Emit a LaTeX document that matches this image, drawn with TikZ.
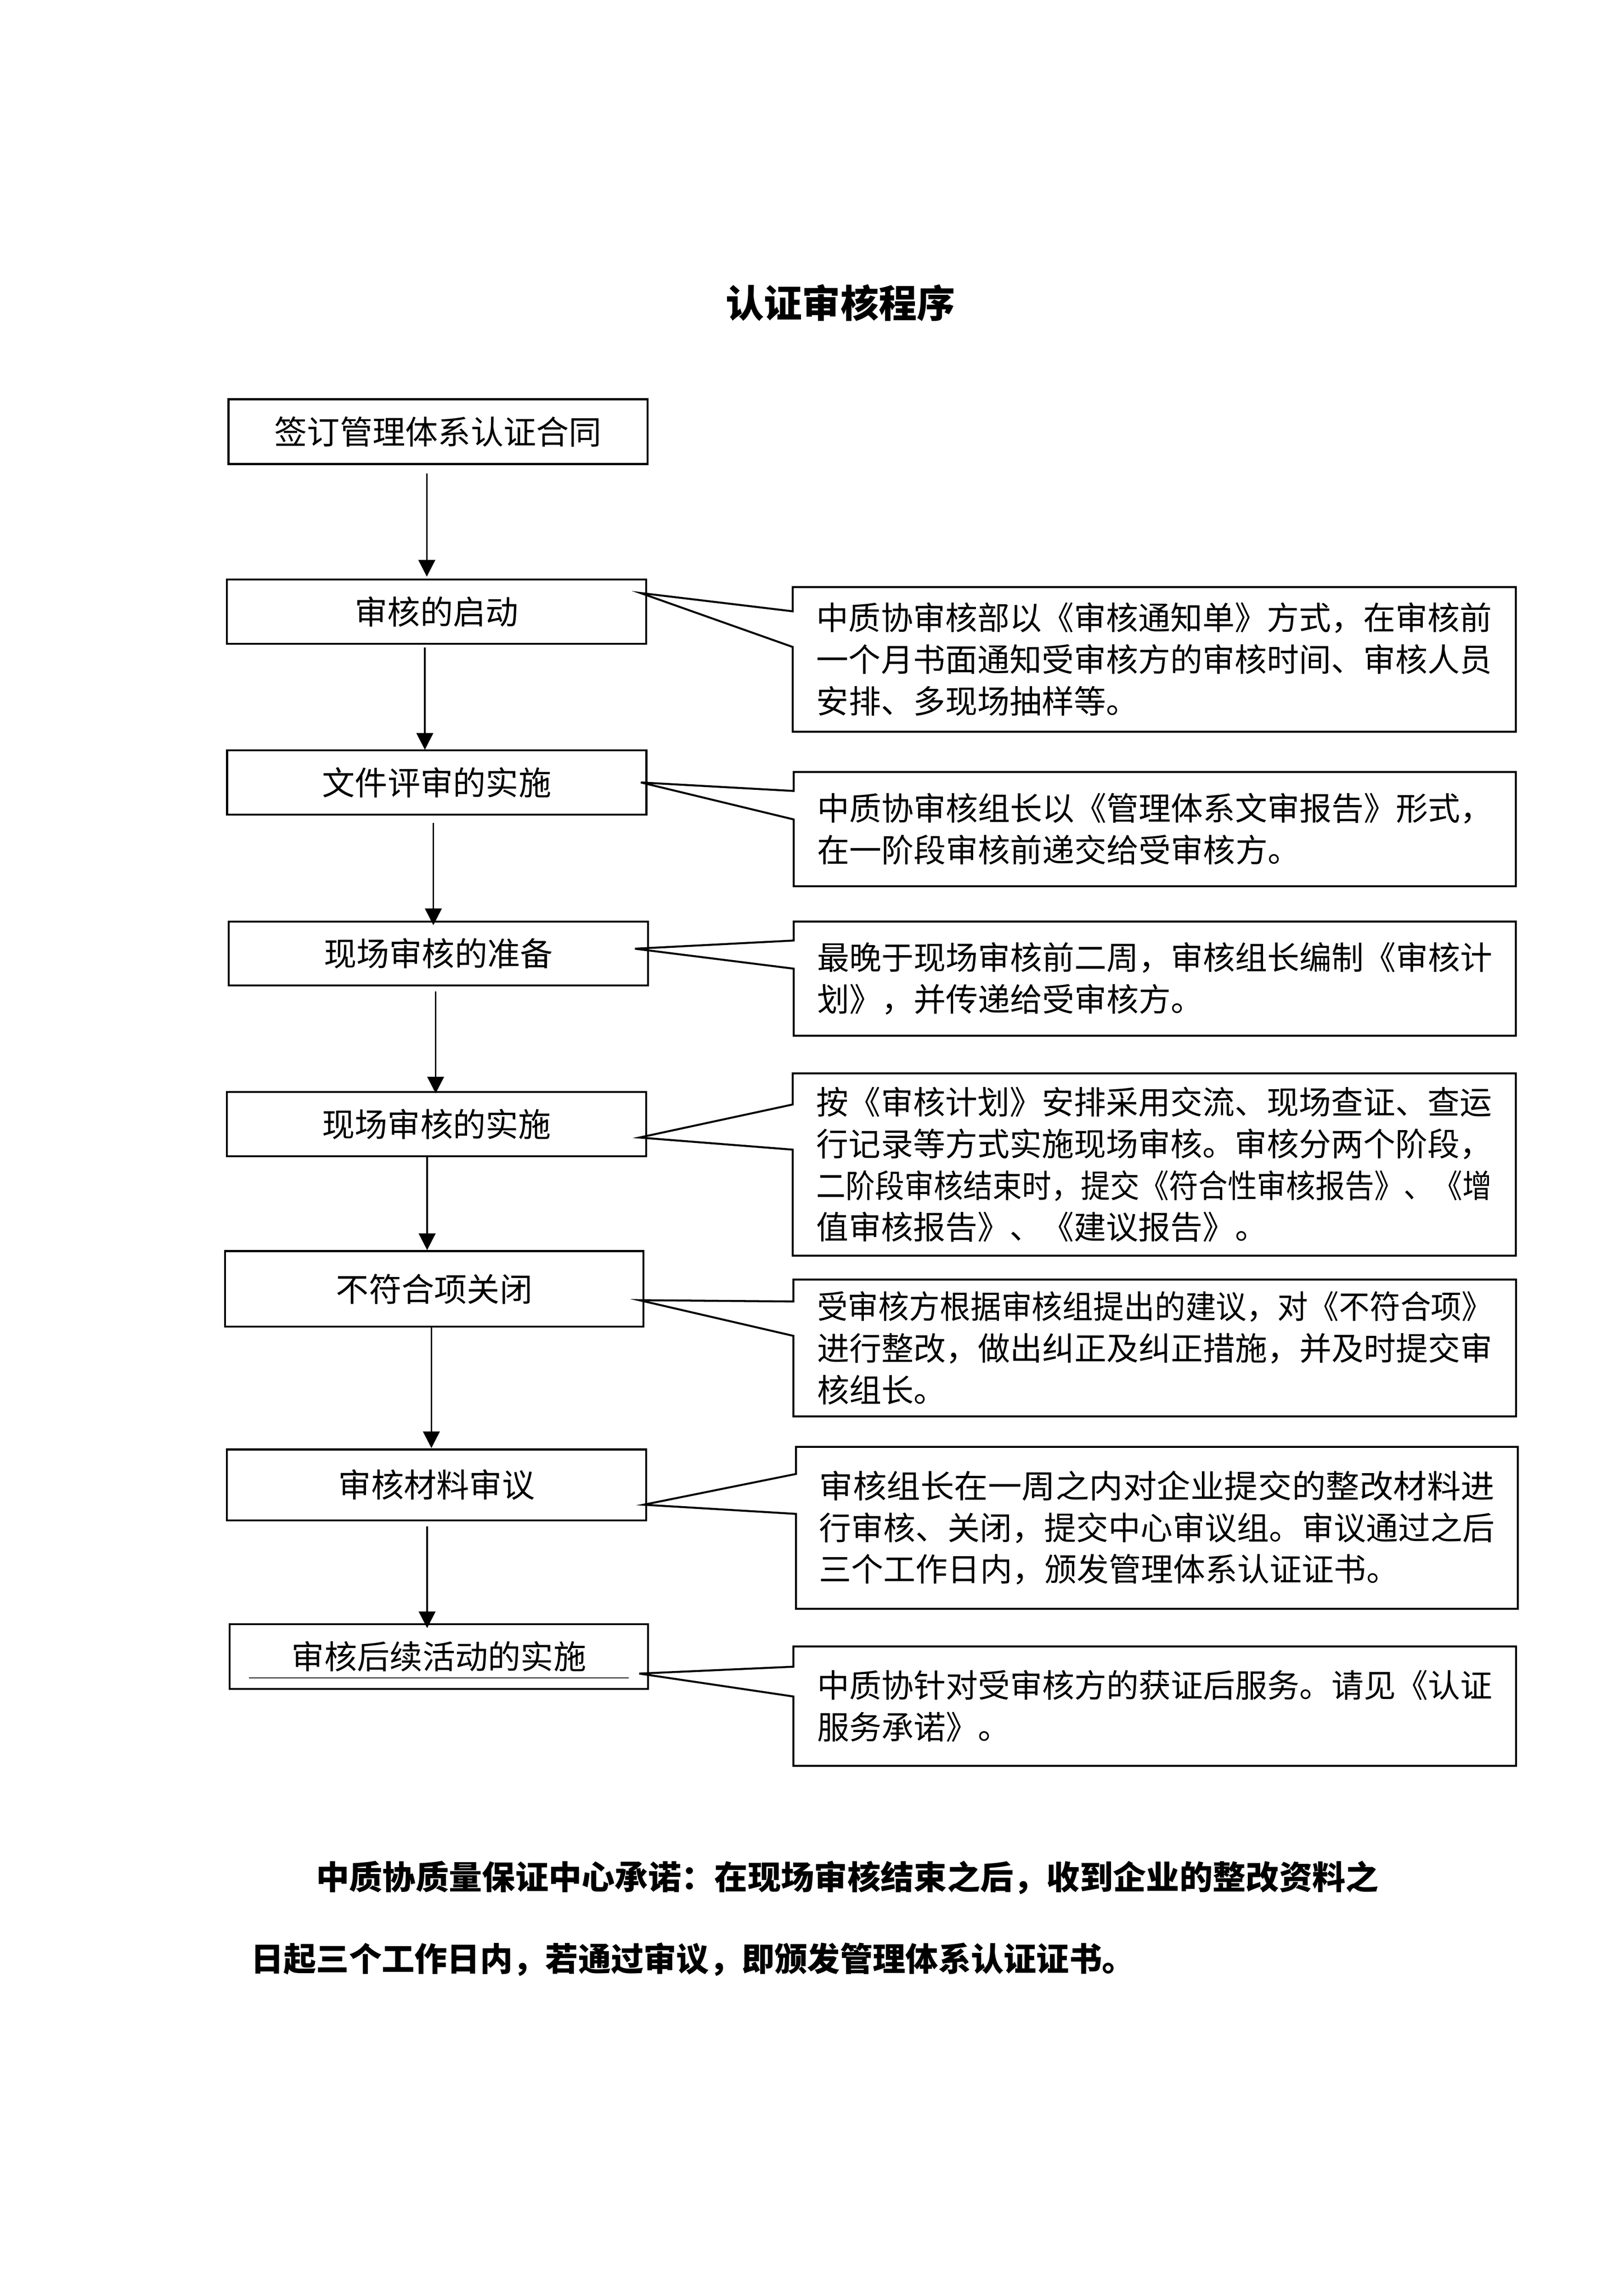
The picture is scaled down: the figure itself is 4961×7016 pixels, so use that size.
\documentclass[tikz,border=0pt]{standalone}
\usepackage{fontspec}
\setmainfont{Noto Sans CJK SC}
\usepackage{graphicx}
\usetikzlibrary{arrows.meta,calc}
\newcommand\fitl[1]{\resizebox{247.6pt}{\height}{#1}}
\begin{document}
\begin{tikzpicture}[x=0.12pt,y=-0.12pt,
  lbox/.style={draw,line width=0.72pt,rectangle,inner sep=0pt,outer sep=0pt,
    minimum width=153.7pt,font=\fontsize{12pt}{14pt}\selectfont},
  rbox/.style={rectangle,inner sep=0pt,outer sep=0pt,align=left,
    text width=247.6pt,font=\fontsize{11.8pt}{15.3pt}\selectfont},
  arr/.style={line width=0.6pt,-{Triangle[length=6.1pt,width=6.1pt]}},
  cl/.style={line width=0.72pt,line join=miter},
  bold/.style={inner sep=0pt,font=\fontsize{12pt}{14pt}\selectfont\bfseries}]
\useasboundingbox (0,0) rectangle (4961,7016);

\node[font=\fontsize{14pt}{16pt}\selectfont\bfseries,inner sep=0pt] (title) at (2568,926) {认证审核程序};

% left boxes
\node[lbox,minimum height=23.76pt] (b1) at (1338.5,1319) {签订管理体系认证合同};
\node[lbox,minimum height=23.52pt] (b2) at (1334,1869) {审核的启动};
\node[lbox,minimum height=23.52pt] (b3) at (1334.5,2391) {文件评审的实施};
\node[lbox,minimum height=23.4pt] (b4) at (1339.5,2913.5) {现场审核的准备};
\node[lbox,minimum height=23.52pt] (b5) at (1334,3435) {现场审核的实施};
\node[lbox,minimum width=153.36pt,minimum height=27.72pt] (b6) at (1327,3938.5) {不符合项关闭};
\node[lbox,minimum height=26.04pt] (b7) at (1334,4537.5) {审核材料审议};
\node[lbox,minimum width=153.36pt,minimum height=23.76pt] (b8) at (1341,5062) {审核后续活动的实施};
\draw[line width=0.3pt] ($(b8.south west)+(59,-34)$) -- ($(b8.south east)+(-59,-34)$);

% arrows
\draw[arr] ($(b1.south)+(-34.5,29)$) -- ($(b2.north)+(-30,-9)$);
\draw[arr] ($(b2.south)+(-36,12)$) -- ($(b3.north)+(-36.5,-2)$);
\draw[arr] ($(b3.south)+(-10.5,26)$) -- ($(b4.north)+(-15.5,11)$);
\draw[arr] ($(b4.south)+(-8.5,18)$) -- ($(b5.north)+(-3,4)$);
\draw[arr] ($(b5.south)+(-29,0)$) -- ($(b6.north)+(-22,-3)$);
\draw[arr] ($(b6.south)+(-9,0)$) -- ($(b7.north)+(-16,-4)$);
\draw[arr] ($(b7.south)+(-29,18)$) -- ($(b8.north)+(-36,12)$);

% right boxes
\node[rbox,minimum width=265.08pt,minimum height=53.04pt] (r1) at (3526.5,2015)
  {\fitl{中质协审核部以《审核通知单》方式，在审核前}\\\fitl{一个月书面通知受审核方的审核时间、审核人员}\\安排、多现场抽样等。};
\node[rbox,minimum width=264.72pt,minimum height=41.88pt] (r2) at (3528,2533.5)
  {\fitl{中质协审核组长以《管理体系文审报告》形式，}\\在一阶段审核前递交给受审核方。};
\node[rbox,minimum width=264.72pt,minimum height=41.88pt] (r3) at (3528,2990.5)
  {\fitl{最晚于现场审核前二周，审核组长编制《审核计}\\划》，并传递给受审核方。};
\node[rbox,minimum width=265.08pt,minimum height=66.84pt] (r4) at (3526.5,3558.5)
  {\fitl{按《审核计划》安排采用交流、现场查证、查运}\\\fitl{行记录等方式实施现场审核。审核分两个阶段，}\\\fitl{二阶段审核结束时，提交《符合性审核报告》、《增}\\值审核报告》、《建议报告》。};
\node[rbox,minimum width=264.96pt,minimum height=50.16pt] (r5) at (3528,4119)
  {\fitl{受审核方根据审核组提出的建议，对《不符合项》}\\\fitl{进行整改，做出纠正及纠正措施，并及时提交审}\\核组长。};
\node[rbox,minimum width=264.6pt,minimum height=59.4pt] (r6) at (3534.5,4668.5)
  {\fitl{审核组长在一周之内对企业提交的整改材料进}\\\fitl{行审核、关闭，提交中心审议组。审议通过之后}\\三个工作日内，颁发管理体系认证证书。};
\node[rbox,minimum width=264.96pt,minimum height=43.8pt] (r7) at (3528,5213.5)
  {\fitl{中质协针对受审核方的获证后服务。请见《认证}\\服务承诺》。};

% callout outlines
\draw[cl] (r1.north west) -- (r1.north east) -- (r1.south east) -- (r1.south west)
  -- ($(r1.north west)+(0,183)$) -- ($(b2.east)+(-18,-57)$) -- ($(r1.north west)+(0,74)$) -- cycle;
\draw[cl] (r2.north west) -- (r2.north east) -- (r2.south east) -- (r2.south west)
  -- ($(r2.north west)+(0,145)$) -- ($(b3.east)+(-17,0)$) -- ($(r2.north west)+(0,58)$) -- cycle;
\draw[cl] (r3.north west) -- (r3.north east) -- (r3.south east) -- (r3.south west)
  -- ($(r3.north west)+(0,144)$) -- ($(b4.east)+(-40,-14.5)$) -- ($(r3.north west)+(0,58)$) -- cycle;
\draw[cl] (r4.north west) -- (r4.north east) -- (r4.south east) -- (r4.south west)
  -- ($(r4.north west)+(0,233)$) -- ($(b5.east)+(-21,41)$) -- ($(r4.north west)+(0,95)$) -- cycle;
\draw[cl] (r5.north west) -- (r5.north east) -- (r5.south east) -- (r5.south west)
  -- ($(r5.north west)+(0,172)$) -- ($(b6.east)+(-13,34.5)$) -- ($(r5.north west)+(0,67)$) -- cycle;
\draw[cl] (r6.north west) -- (r6.north east) -- (r6.south east) -- (r6.south west)
  -- ($(r6.north west)+(0,205)$) -- ($(b7.east)+(-8,60.5)$) -- ($(r6.north west)+(0,83)$) -- cycle;
\draw[cl] (r7.north west) -- (r7.north east) -- (r7.south east) -- (r7.south west)
  -- ($(r7.north west)+(0,153)$) -- ($(b8.east)+(-27,52)$) -- ($(r7.north west)+(0,62)$) -- cycle;

% bottom text
\node[bold,anchor=west] (p1) at (964,5737) {\resizebox{389.6pt}{\height}{中质协质量保证中心承诺：在现场审核结束之后，收到企业的整改资料之}};
\node[bold,anchor=west] (p2) at (765,5987) {日起三个工作日内，若通过审议，即颁发管理体系认证证书。};
\end{tikzpicture}
\end{document}
